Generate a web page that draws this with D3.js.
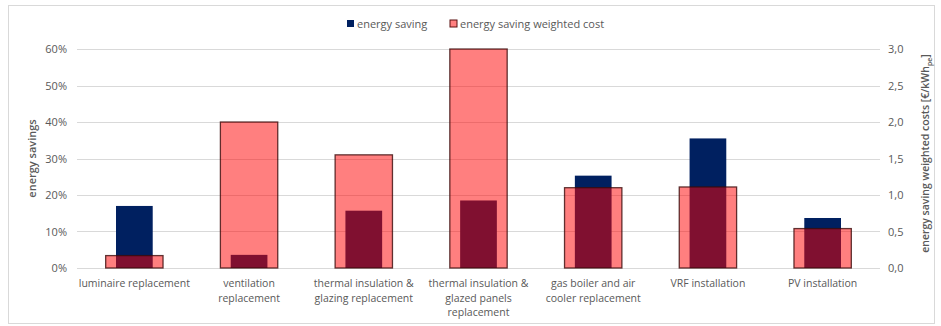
<!DOCTYPE html>
<html>
<head>
<meta charset="utf-8">
<title>energy saving</title>
<style>
  body { margin: 0; background: #fff; }
  text { font-family: "Open Sans", "Noto Sans", sans-serif; fill: #595959; }
</style>
</head>
<body>
<svg id="chart"></svg>
<script src="https://d3js.org/d3.v7.min.js"></script>
<script>
const categories = [
  ["luminaire replacement"],
  ["ventilation", "replacement"],
  ["thermal insulation &", "glazing replacement"],
  ["thermal insulation &", "glazed panels", "replacement"],
  ["gas boiler and air", "cooler replacement"],
  ["VRF installation"],
  ["PV installation"]
];
const energySaving = [0.17, 0.036, 0.157, 0.185, 0.253, 0.355, 0.137];
const weightedCost = [0.17, 2.0, 1.55, 3.0, 1.10, 1.11, 0.54];
const leftTicks = [0, 0.1, 0.2, 0.3, 0.4, 0.5, 0.6];
const rightTicks = [0, 0.5, 1, 1.5, 2, 2.5, 3];

const width = 941, height = 326;
const margin = {top: 49, right: 61, bottom: 58, left: 77};

const svg = d3.select("#chart").attr("width", width).attr("height", height);

// outer frame
svg.append("rect")
    .attr("x", 8.5).attr("y", 5.5)
    .attr("width", 926).attr("height", 318)
    .attr("fill", "#fff").attr("stroke", "#d9d9d9");

const x = d3.scaleBand()
    .domain(d3.range(categories.length))
    .range([margin.left, width - margin.right])
    .paddingInner(0).paddingOuter(0);

const yL = d3.scaleLinear().domain([0, 0.6]).range([height - margin.bottom, margin.top]);
const yR = d3.scaleLinear().domain([0, 3]).range([height - margin.bottom, margin.top]);

// gridlines
svg.append("g")
  .selectAll("line")
  .data(leftTicks)
  .join("line")
    .attr("x1", margin.left).attr("x2", width - margin.right)
    .attr("y1", d => Math.round(yL(d)) + 0.5).attr("y2", d => Math.round(yL(d)) + 0.5)
    .attr("stroke", "#d9d9d9");

// left axis
const axL = svg.append("g")
    .attr("transform", `translate(${margin.left - 10},0)`)
    .call(d3.axisLeft(yL).tickValues(leftTicks).tickFormat(d3.format(".0%")).tickSize(0).tickPadding(0));
axL.select(".domain").remove();
axL.selectAll("text").style("font-size", "11px").attr("fill", "#595959");

// right axis
const axR = svg.append("g")
    .attr("transform", `translate(${width - margin.right + 8},0)`)
    .call(d3.axisRight(yR).tickValues(rightTicks).tickFormat(d => d3.format(".1f")(d).replace(".", ",")).tickSize(0).tickPadding(0));
axR.select(".domain").remove();
axR.selectAll("text").style("font-size", "11px").attr("fill", "#595959");

// energy saving bars
const blueW = x.bandwidth() * 0.32;
svg.append("g")
  .selectAll("rect")
  .data(energySaving)
  .join("rect")
    .attr("x", (d, i) => x(i) + x.bandwidth() / 2 - blueW / 2)
    .attr("y", d => yL(d))
    .attr("width", blueW)
    .attr("height", d => yL(0) - yL(d))
    .attr("fill", "#002060");

// weighted cost bars (semi transparent over the blue)
const pinkW = x.bandwidth() * 0.5;
svg.append("g")
  .selectAll("rect")
  .data(weightedCost)
  .join("rect")
    .attr("x", (d, i) => x(i) + x.bandwidth() / 2 - pinkW / 2)
    .attr("y", d => yR(d))
    .attr("width", pinkW)
    .attr("height", d => yR(0) - yR(d))
    .attr("fill", "#ff0000")
    .attr("fill-opacity", 0.5)
    .attr("stroke", "#3a0a0a")
    .attr("stroke-opacity", 0.8)
    .attr("stroke-width", 1.3);

// category labels
const lab = svg.append("g")
  .selectAll("text")
  .data(categories)
  .join("text")
    .attr("x", (d, i) => x(i) + x.bandwidth() / 2)
    .attr("y", height - margin.bottom + 19)
    .attr("text-anchor", "middle")
    .style("font-size", "10.5px");
lab.selectAll("tspan")
  .data(d => d)
  .join("tspan")
    .attr("x", function() { return this.parentNode.getAttribute("x"); })
    .attr("dy", (d, i) => i === 0 ? 0 : 14.5)
    .text(d => d);

// axis titles
svg.append("text")
    .attr("transform", `translate(36,${(yL(0) + yL(0.6)) / 2}) rotate(-90)`)
    .attr("text-anchor", "middle")
    .style("font-size", "11px")
    .style("font-weight", "600")
    .text("energy savings");

const rt = svg.append("text")
    .attr("transform", `translate(929,${(yR(0) + yR(3)) / 2 - 5}) rotate(-90)`)
    .attr("text-anchor", "middle")
    .style("font-size", "10.5px")
    .style("font-weight", "600");
rt.append("tspan").text("energy saving weighted costs [€/kWh");
rt.append("tspan").attr("dy", 3).style("font-size", "7px").text("pe");
rt.append("tspan").attr("dy", -3).text("]");

// legend
const legend = [
  {name: "energy saving", fill: "#002060", stroke: "none", x: 347},
  {name: "energy saving weighted cost", fill: "#ff8080", stroke: "#5a1010", x: 450}
];
const lg = svg.append("g")
  .selectAll("g")
  .data(legend)
  .join("g")
    .attr("transform", d => `translate(${d.x},24)`);
lg.append("rect")
    .attr("x", 0).attr("y", -4).attr("width", 7).attr("height", 7)
    .attr("fill", d => d.fill).attr("stroke", d => d.stroke);
lg.append("text")
    .attr("x", 10).attr("y", 0).attr("dy", "0.35em")
    .style("font-size", "11px")
    .text(d => d.name);
</script>
</body>
</html>
